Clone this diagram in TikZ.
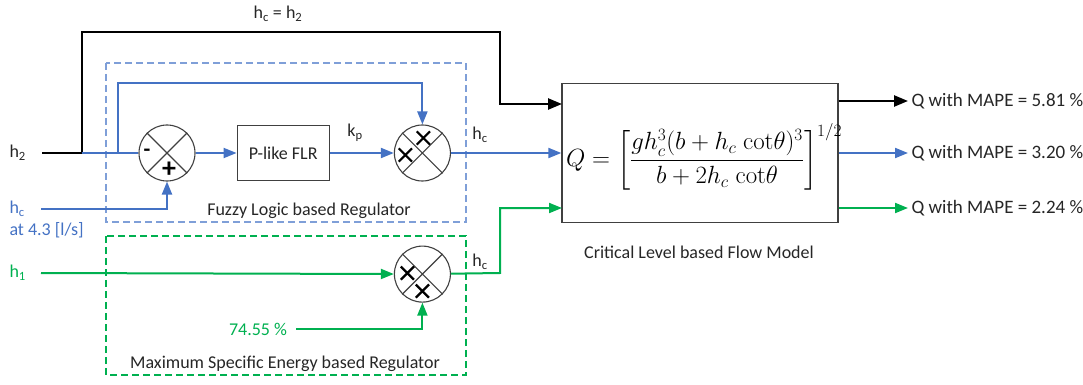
\documentclass[tikz,border=0pt]{standalone}
\usepackage{amsmath}
\usepackage[no-math]{fontspec}
\setmainfont{Carlito}
\usepackage{xcolor}
\usepackage{tikz}
\usetikzlibrary{arrows.meta,positioning,shapes.misc}

\definecolor{flrblue}{HTML}{4472C4}
\definecolor{msegreen}{HTML}{00B050}
\definecolor{frameblue}{HTML}{7F9FD8}
\definecolor{edgegray}{HTML}{404040}
\definecolor{txtgray}{HTML}{262626}

\begin{document}
\begin{tikzpicture}[
      x=1pt, y=-1pt,
      every node/.style={font=\fontsize{18}{21}\selectfont, text=txtgray},
      junc/.style={circle, draw=edgegray, line width=1.1pt, minimum size=56pt, inner sep=0pt},
      blockbox/.style={rectangle, draw=edgegray, line width=1.3pt, inner sep=0pt},
      frame/.style={dash pattern=on 7pt off 4pt, line width=1.1pt},
      xmk/.style={cross out, draw=black, line width=2.2pt, minimum size=11pt, inner sep=0pt},
      outlbl/.style={anchor=west, font=\fontsize{19}{22}\selectfont},
      sig/.style={line width=2pt, -{Triangle[length=13pt,width=10pt]}},
      bsig/.style={line width=2.5pt, -{Triangle[length=14pt,width=11pt]}}]
    \useasboundingbox (0,0) rectangle (1083,385);
    % regulator frames
    \draw[frame, frameblue] (106,63) rectangle (466,222);
    \draw[frame, msegreen] (106,236) rectangle (466,375);
    \node (flrlbl) at (309,211) {Fuzzy Logic based Regulator};
    \node (mselbl) at (285,364) {Maximum Specific Energy based Regulator};
    % blocks
    \node[junc] (sum) at (167,153) {};
    \node[blockbox, minimum width=92pt, minimum height=55pt, right=41pt of sum] (flr) {P-like FLR};
    \node[junc, right=64pt of flr] (mul) {};
    \node[junc, below=64pt of mul] (mulb) {};
    \node[blockbox, minimum width=276pt, minimum height=139pt] (model) at (700,153) {};
    \node[font=\fontsize{23}{27}\selectfont, text=black] (eq) at (704,157)
      {$Q=\left[\dfrac{g h_c^3(b+h_c\;\mathrm{cot}\theta)^3}{b+2h_c\;\mathrm{cot}\theta}\right]^{1/2}$};
    \node (modlbl) at (699,252) {Critical Level based Flow Model};
    \foreach \j in {sum,mul,mulb}
      \draw[edgegray, line width=1.1pt] (\j.45) -- (\j.225) (\j.135) -- (\j.-45);
    \node[font=\fontsize{22}{22}\selectfont\bfseries, text=black] (sminus) at ([shift={(-20,0)}]sum.center) {-};
    \node[font=\fontsize{28}{28}\selectfont\bfseries, text=black] (splus) at ([shift={(2,17)}]sum.center) {+};
    \node[xmk] (mxa) at ([shift={(1,-15)}]mul.center) {};
    \node[xmk] (mxb) at ([shift={(-17,2)}]mul.center) {};
    \node[xmk] (mbxa) at ([shift={(-15,-1)}]mulb.center) {};
    \node[xmk] (mbxb) at ([shift={(0,17)}]mulb.center) {};
    % inputs
    \node[anchor=west] (h2lbl) at (6,153) {h\textsubscript{2}};
    \node[anchor=west, text=flrblue] (hclbl) at (6,209) {h\textsubscript{c}};
    \node[anchor=west, text=flrblue] (hcval) at (6,230) {at 4.3 [l/s]};
    \node[anchor=west, text=msegreen] (h1lbl) at (6,273) {h\textsubscript{1}};
    \node[text=msegreen] (pct) at (258,329) {74.55 \%};
    \node (hceq) at (278,14) {h\textsubscript{c} = h\textsubscript{2}};
    \node (kp) at (355,133) {k\textsubscript{p}};
    \node (hcb) at (480,135) {h\textsubscript{c}};
    \node (hcg) at (480,262) {h\textsubscript{c}};
    \coordinate (h2s) at (42,153);
    \coordinate (tapA) at (82,153);
    \coordinate (tapB) at (118,153);
    \coordinate (brT) at (118,83);
    \coordinate (topR) at (500,32);
    \coordinate (mdA) at (562,104);
    \coordinate (hcs) at (41,209);
    \coordinate (h1s) at (41,273);
    \coordinate (pcts) at (296,329);
    \coordinate (grK) at (500,273);
    \coordinate (mdC) at (562,208);
    % black path
    \draw[line width=2.5pt] (h2s) -- (tapA);
    \draw[bsig] (tapA) |- (topR) |- (mdA);
    % blue path
    \draw[line width=2pt, flrblue] (tapA) -- (sum.west);
    \draw[sig, flrblue] (tapB) -- (brT) -| (mul.north);
    \draw[sig, flrblue] (hcs) -| (sum.south);
    \draw[sig, flrblue] (sum) -- (flr);
    \draw[sig, flrblue] (flr) -- (mul);
    \draw[sig, flrblue] (mul) -- (model.west);
    % green path
    \draw[sig, msegreen] (h1s) -- (mulb);
    \draw[sig, msegreen] (pcts) -| (mulb.south);
    \draw[sig, msegreen] (mulb) -- (grK) |- (mdC);
    % outputs
    \node[outlbl] (qa) at (908,101) {Q with MAPE = 5.81 \%};
    \node[outlbl] (qb) at (908,153) {Q with MAPE = 3.20 \%};
    \node[outlbl] (qc) at (908,208) {Q with MAPE = 2.24 \%};
    \draw[bsig] (model.east |- qa) -- (qa.west);
    \draw[sig, flrblue] (model.east |- qb) -- (qb.west);
    \draw[sig, msegreen] (model.east |- qc) -- (qc.west);
  \end{tikzpicture}
\end{document}
